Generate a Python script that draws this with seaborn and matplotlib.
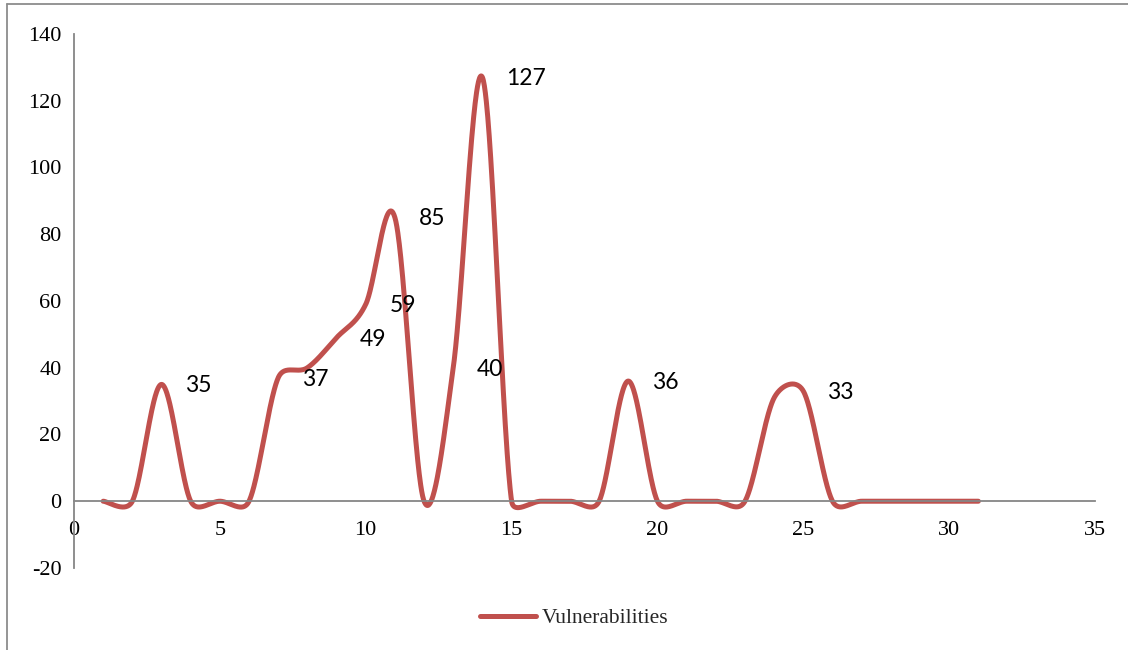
import numpy as np
import pandas as pd
import matplotlib
matplotlib.use("Agg")
import matplotlib.pyplot as plt
from matplotlib.lines import Line2D
import seaborn as sns

# Monthly vulnerability counts (index 1..31)
days = list(range(1, 32))
vulnerabilities = [0, 0, 35, 0, 0, 0, 37, 40, 49, 59, 85, 0, 40, 127, 0,
                   0, 0, 0, 36, 0, 0, 0, 0, 31, 33, 0, 0, 0, 0, 0, 0]
# Points that carry a value label
labelled_days = [3, 7, 9, 10, 11, 13, 14, 19, 25]

x_ticks = [0, 5, 10, 15, 20, 25, 30, 35]
y_ticks = [-20, 0, 20, 40, 60, 80, 100, 120, 140]
x_range = (0, 35)
y_range = (-20, 140)

LINE_COLOR = "#C0504D"
AXIS_COLOR = "#868686"

FIG_W, FIG_H = 11.28, 6.5
AX_RECT = [0.0656, 0.1262, 0.9052, 0.8215]


def smooth_path(xs, ys, sx, sy, steps=60):
    """Spreadsheet-style smoothed line: cubic Bezier segments whose handles follow
    the neighbouring chord, limited to half of each segment's on-screen length.
    sx, sy convert data units to display pixels so the limit is applied on screen."""
    pts = np.column_stack([np.asarray(xs, float) * sx, np.asarray(ys, float) * sy])
    n = len(pts)
    out = []
    for i in range(n - 1):
        p0 = pts[i - 1] if i > 0 else pts[i]
        p1 = pts[i]
        p2 = pts[i + 1]
        p3 = pts[i + 2] if i + 2 < n else pts[i + 1]
        half = np.linalg.norm(p2 - p1) / 2.0
        h1 = (p2 - p0) / 6.0
        h2 = (p3 - p1) / 6.0
        for h in (h1, h2):
            ln = np.linalg.norm(h)
            if ln > half:
                h *= half / ln
        c1 = p1 + h1
        c2 = p2 - h2
        t = np.linspace(0, 1, steps, endpoint=(i == n - 2))[:, None]
        seg = ((1 - t) ** 3) * p1 + 3 * ((1 - t) ** 2) * t * c1 \
            + 3 * (1 - t) * t ** 2 * c2 + t ** 3 * p2
        out.append(seg)
    out = np.vstack(out)
    return out[:, 0] / sx, out[:, 1] / sy


sns.set_style("white")
plt.rcParams["font.family"] = ["Liberation Serif", "DejaVu Serif"]

fig = plt.figure(figsize=(FIG_W, FIG_H), dpi=100)
ax = fig.add_axes(AX_RECT)

px_per_x = AX_RECT[2] * FIG_W * 100 / (x_range[1] - x_range[0])
px_per_y = AX_RECT[3] * FIG_H * 100 / (y_range[1] - y_range[0])
cx, cy = smooth_path(days, vulnerabilities, px_per_x, px_per_y)
curve = pd.DataFrame({"x": cx, "y": cy})
sns.lineplot(data=curve, x="x", y="y", sort=False, estimator=None,
             color=LINE_COLOR, linewidth=3.6, solid_capstyle="round",
             ax=ax, legend=False)

# Value labels to the right of each labelled point
for d in labelled_days:
    v = vulnerabilities[d - 1]
    ax.annotate(str(v), xy=(d, v), xytext=(17, -1), textcoords="offset points",
                ha="left", va="center", fontsize=16.5,
                family=["Lato", "DejaVu Sans"], color="black")

ax.set_xlim(*x_range)
ax.set_ylim(*y_range)
ax.set_xticks(x_ticks)
ax.set_yticks(y_ticks)
ax.set_xticklabels([str(t) for t in x_ticks])
ax.set_yticklabels([str(t) for t in y_ticks])
ax.set_xlabel("")
ax.set_ylabel("")

for side in ("top", "right"):
    ax.spines[side].set_visible(False)
ax.spines["bottom"].set_position(("data", 0))
for side in ("left", "bottom"):
    ax.spines[side].set_color(AXIS_COLOR)
    ax.spines[side].set_linewidth(1.3)

ax.tick_params(axis="both", which="major", direction="out", length=5,
               width=1.3, color=AXIS_COLOR, labelsize=16, labelcolor="black")
ax.tick_params(axis="x", pad=9)
ax.tick_params(axis="y", pad=4)
ax.grid(False)

handle = Line2D([0], [0], color=LINE_COLOR, linewidth=3.6, solid_capstyle="round")
fig.legend([handle], ["Vulnerabilities"], loc="center",
           bbox_to_anchor=(0.509, 0.049), frameon=False, handlelength=2.6,
           handletextpad=0.25, prop={"family": "Liberation Serif", "size": 15.5})

# Chart frame
fig.add_artist(Line2D([7 / 1128, 7 / 1128], [0, 1 - 4 / 650],
                      transform=fig.transFigure, color="#8c8c8c", linewidth=1.3))
fig.add_artist(Line2D([7 / 1128, 1], [1 - 4 / 650, 1 - 4 / 650],
                      transform=fig.transFigure, color="#8c8c8c", linewidth=1.3))

fig.savefig("out.png", dpi=100, facecolor="white")
